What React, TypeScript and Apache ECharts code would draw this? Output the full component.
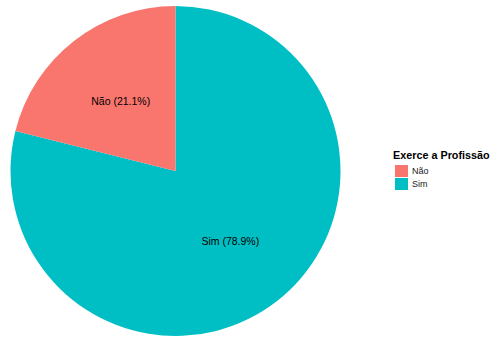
import React, { useEffect, useRef } from "react";
import * as echarts from "echarts";

const categories = ["Sim", "Não"];
const values = [78.9, 21.1];
const colors = ["#00BFC4", "#F8766D"];
const legendOrder = ["Não", "Sim"];
const legendTitle = "Exerce a Profissão";

export default function App() {
  const ref = useRef<HTMLDivElement>(null);
  useEffect(() => {
    if (!ref.current) return;
    const chart = echarts.init(ref.current, null, { renderer: "svg" });
    const data = categories.map((c, i) => ({
      name: c,
      value: values[i],
      itemStyle: { color: colors[i] },
    }));
    chart.setOption({
      animation: false,
      textStyle: { fontFamily: "Liberation Sans, Arial, sans-serif" },
      title: {
        text: legendTitle,
        left: 393,
        top: 149,
        textStyle: { fontSize: 10.8, fontWeight: "bold", color: "#000" },
        padding: [0, 0, 0, 0],
      },
      legend: {
        data: legendOrder,
        orient: "vertical",
        left: 395,
        top: 165,
        icon: "rect",
        itemWidth: 13,
        itemHeight: 12,
        itemGap: 1,
        padding: 0,
        selectedMode: false,
        textStyle: { fontSize: 9, color: "#1a1a1a", padding: [0, 0, 0, -1] },
      },
      series: [
        {
          type: "pie",
          center: [175.5, 171],
          radius: [0, 165],
          startAngle: 90,
          clockwise: true,
          silent: true,
          label: { show: false },
          labelLine: { show: false },
          data,
        },
        {
          type: "pie",
          center: [175.5, 171],
          radius: [0, 172],
          startAngle: 90,
          clockwise: true,
          silent: true,
          itemStyle: { color: "transparent" },
          label: {
            show: true,
            position: "inside",
            fontSize: 10.5,
            color: "#000",
            formatter: (p: any) => `${p.name} (${p.value.toFixed(1)}%)`,
          },
          labelLine: { show: false },
          data: categories.map((c, i) => ({
            name: c,
            value: values[i],
            itemStyle: { color: "transparent" },
          })),
        },
      ],
    });
    return () => chart.dispose();
  }, []);
  return (
    <div
      ref={ref}
      style={{ position: "absolute", left: 0, top: 0, width: 491, height: 338 }}
    />
  );
}
